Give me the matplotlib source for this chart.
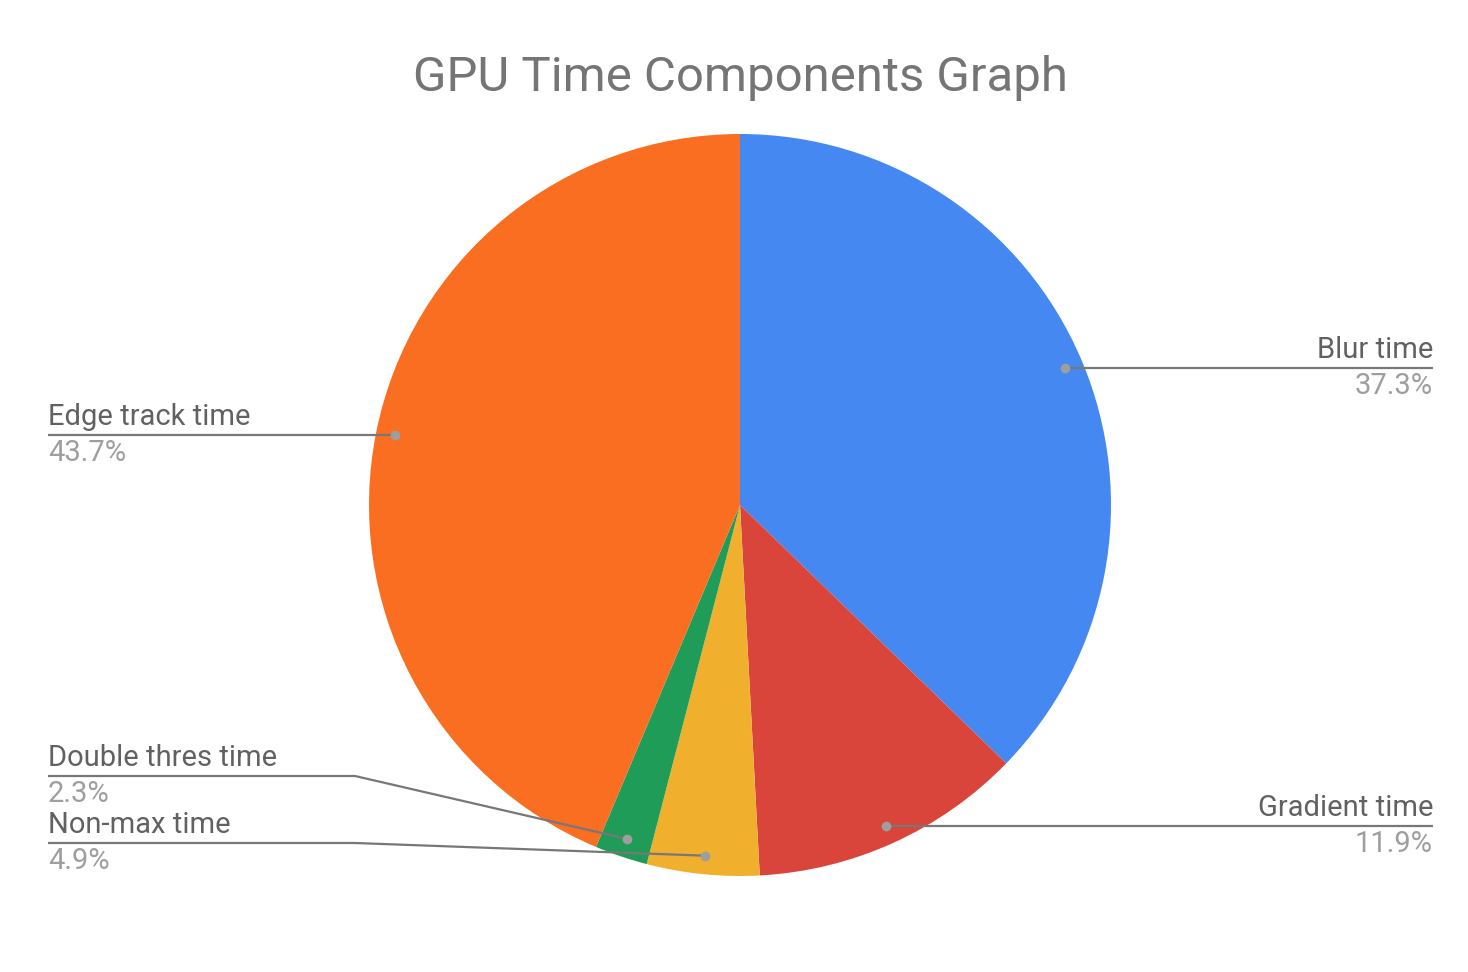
import matplotlib
matplotlib.use("Agg")
from matplotlib import pyplot
import numpy

names = ["Blur time", "Gradient time", "Non-max time", "Double thres time", "Edge track time"]
values = [37.3, 11.9, 4.9, 2.3, 43.7]
colors = ["#4688F1", "#DA453B", "#F0B02E", "#1F9C58", "#FA6E22"]

W, H = 1468, 972
cx, cy, r = 740, H - 505, 371

pyplot.rcParams["font.family"] = ["Roboto", "DejaVu Sans"]
fig = pyplot.figure(figsize=(W / 100, H / 100), dpi=100)
ax = fig.add_axes([0, 0, 1, 1])
ax.pie(values, colors=colors, startangle=90, counterclock=False,
       center=(cx, cy), radius=r, wedgeprops=dict(linewidth=0))
ax.set_xlim(0, W)
ax.set_ylim(0, H)
ax.set_aspect("equal")
ax.axis("off")

ax.text(740, H - 78, "GPU Time Components Graph", ha="center", va="center",
        fontsize=35.4, color="#757575")

# label layout: (side, text x, line y in px, bend x)
layout = {
    "Blur time": ("right", 1433, None, None),
    "Gradient time": ("right", 1433, None, None),
    "Non-max time": ("left", 48, 843, 355),
    "Double thres time": ("left", 48, 776, 355),
    "Edge track time": ("left", 48, None, None),
}

total = sum(values)
cum = 0
for name, v in zip(names, values):
    theta = numpy.deg2rad(90 - 360 * (cum + v / 2) / total)
    cum += v
    px = cx + 0.95 * r * numpy.cos(theta)
    py = cy + 0.95 * r * numpy.sin(theta)
    side, tx, ly, bx = layout[name]
    if ly is None:
        ly = py
    else:
        ly = H - ly
    if bx is None:
        xs, ys = [tx, px], [ly, py]
    else:
        xs, ys = [tx, bx, px], [ly, ly, py]
    ax.plot(xs, ys, "-", color="#777777", lw=1.6, solid_capstyle="butt")
    ax.plot(px, py, "o", color="#9e9e9e", ms=7, mec="none")
    ha = "right" if side == "right" else "left"
    ax.text(tx, ly + 10, name, ha=ha, va="baseline", fontsize=21, color="#616161")
    ax.text(tx, ly - 26, "%.1f%%" % v, ha=ha, va="baseline", fontsize=21, color="#9e9e9e")

pyplot.savefig("out.png", dpi=100)
